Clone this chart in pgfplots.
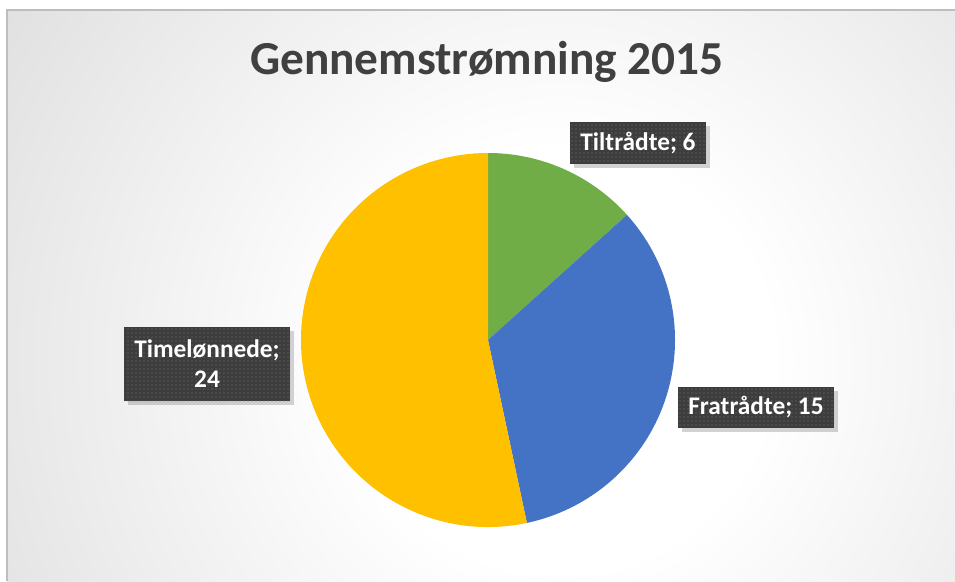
\documentclass[border=0pt]{standalone}
\usepackage{pgfplots}
\pgfplotsset{compat=1.18}
\usepackage{pgfplotstable}
\usepackage{fontspec}
\setmainfont{Carlito}
\usetikzlibrary{shadows,patterns}

\definecolor{piegreen}{HTML}{70AD47}
\definecolor{pieblue}{HTML}{4472C4}
\definecolor{pieyellow}{HTML}{FFC000}
\definecolor{titlegray}{HTML}{404040}
\definecolor{boxdark}{HTML}{3D3D3D}
\definecolor{bg1}{HTML}{E4E4E4}
\definecolor{bg2}{HTML}{CFCFCF}
\definecolor{bgedge}{HTML}{BFBFBF}
\definecolor{bgborder}{HTML}{BDBDBD}

\pgfdeclareradialshading{bgshade}{\pgfpoint{0bp}{0bp}}{%
  color(0bp)=(white); color(8bp)=(white); color(23bp)=(bg1);
  color(35bp)=(bg2); color(50bp)=(bgedge)}

% slices, clockwise from 12 o'clock; lx/ly = label position (px), mh = label box height (pt)
\pgfplotstableread[col sep=comma]{
name,value,col,lx,ly,br,mh
Tiltrådte,6,piegreen,638,143,0,30.75
Fratrådte,15,pieblue,756,407,0,30.75
Timelønnede,24,pieyellow,207,364,1,55.5
}\piedata

\def\R{140.25pt}  % pie radius (187 px)
\pgfplotstablegetrowsof{\piedata}
\pgfmathtruncatemacro\nlast{\pgfplotsretval-1}
\def\total{0}
\pgfplotsforeachungrouped \i in {0,...,\nlast}{%
  \pgfplotstablegetelem{\i}{value}\of\piedata
  \pgfmathsetmacro\total{\total+\pgfplotsretval}}

\def\piecmds{}
\def\lblcmds{}
\def\cura{90}
\pgfplotsforeachungrouped \i in {0,...,\nlast}{%
  \pgfplotstablegetelem{\i}{value}\of\piedata \let\v\pgfplotsretval
  \pgfplotstablegetelem{\i}{col}\of\piedata \let\c\pgfplotsretval
  \pgfplotstablegetelem{\i}{name}\of\piedata \let\n\pgfplotsretval
  \pgfplotstablegetelem{\i}{lx}\of\piedata \let\lx\pgfplotsretval
  \pgfplotstablegetelem{\i}{ly}\of\piedata \let\ly\pgfplotsretval
  \pgfplotstablegetelem{\i}{br}\of\piedata \let\br\pgfplotsretval
  \pgfplotstablegetelem{\i}{mh}\of\piedata \let\mh\pgfplotsretval
  \pgfmathsetmacro\enda{\cura-360*\v/\total}
  \edef\piecmds{\unexpanded\expandafter{\piecmds}%
    \noexpand\fill[\c] (axis cs:488,340) -- ++(\cura:\R)
      arc[start angle=\cura,end angle=\enda,radius=\R] -- cycle;}
  \ifnum\br=1
    \edef\lbl{\unexpanded\expandafter{\n};\noexpand\\\v}%
  \else
    \edef\lbl{\unexpanded\expandafter{\n}; \v}%
  \fi
  \edef\lblcmds{\unexpanded\expandafter{\lblcmds}%
    \noexpand\node[lbl, minimum height=\mh pt] at (axis cs:\lx,\ly)
      {\unexpanded\expandafter{\lbl}};}
  \let\cura\enda
}

\begin{document}
\begin{tikzpicture}[
  lbl/.style={fill=boxdark, text=white, align=center,
    font=\fontsize{19}{22.5}\selectfont\bfseries,
    inner xsep=7.5pt, inner ysep=3pt,
    drop shadow={opacity=0.35, shadow xshift=3pt, shadow yshift=-3pt},
    postaction={pattern=dots, pattern color=white!30!boxdark}}]
\begin{axis}[
  scale only axis,
  width=716.25pt, height=435.75pt,
  xmin=0, xmax=955, ymin=0, ymax=581,
  y dir=reverse,
  axis lines=none, ticks=none,
  clip=false,
]
\begin{scope}
  \clip (axis cs:7,10) rectangle (axis cs:955,581);
  \shade[shading=bgshade] (axis cs:560,360) ++(-495pt,-495pt) rectangle ++(990pt,990pt);
\end{scope}
\draw[bgborder, line width=0.9pt] (axis cs:7,581) -- (axis cs:7,10) -- (axis cs:955,10);

\node[text=titlegray, font=\fontsize{35.5}{40}\selectfont\bfseries]
  at (axis cs:487,62) {Gennemstrømning 2015};

\piecmds
\lblcmds
\end{axis}
\pgfresetboundingbox
\path (current axis.south west) rectangle (current axis.north east);
\end{tikzpicture}
\end{document}
